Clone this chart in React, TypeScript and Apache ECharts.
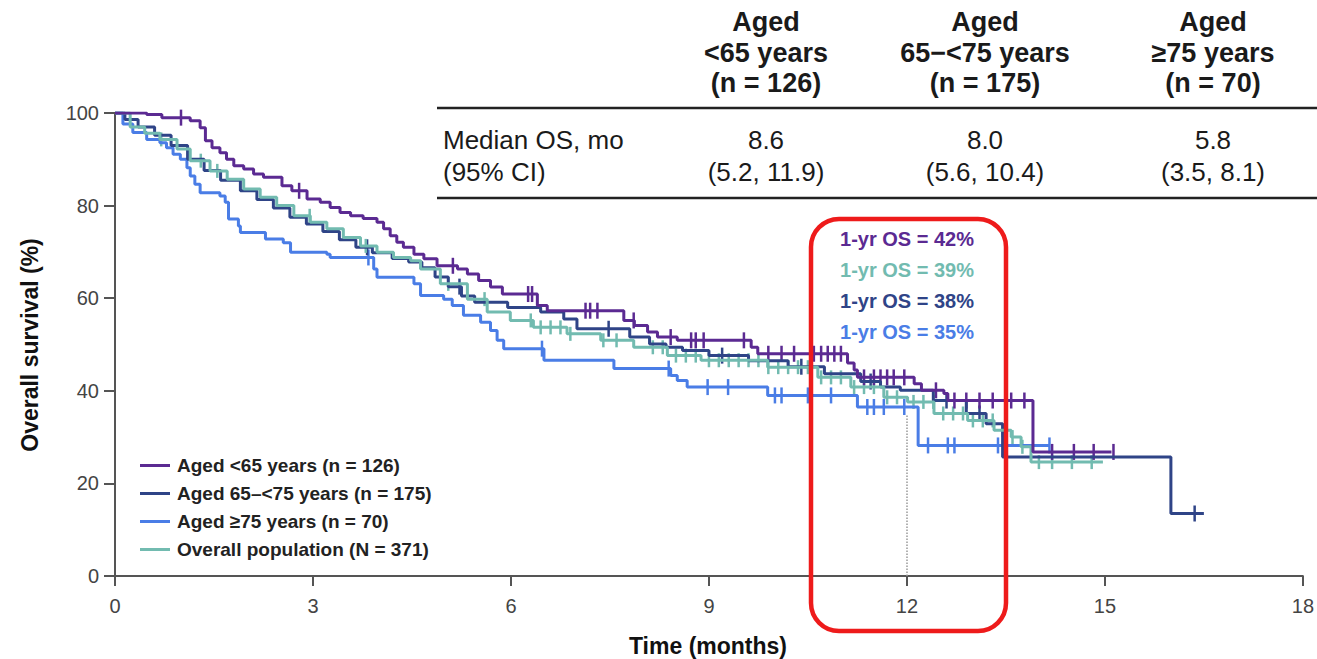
import React, { useEffect, useRef } from "react";
import * as echarts from "echarts";

// ---- Data ----
const xTicks = [0, 3, 6, 9, 12, 15, 18];
const yTicks = [0, 20, 40, 60, 80, 100];

const seriesNames = [
  "Aged <65 years (n = 126)",
  "Aged 65–<75 years (n = 175)",
  "Aged ≥75 years (n = 70)",
  "Overall population (N = 371)",
];

// Aged <65 years
const lt65T = [0, 0.48, 0.71, 1.14, 1.29, 1.37, 1.47, 1.59, 1.69, 1.8, 1.95, 2.1, 2.25, 2.53, 2.68, 2.91, 3.11, 3.26, 3.41, 3.57, 3.76, 3.97, 4.07, 4.17, 4.27, 4.37, 4.53, 4.68, 4.88, 5.19, 5.34, 5.51, 5.69, 5.87, 6.4, 6.55, 7.71, 7.87, 8.07, 8.22, 8.52, 9.64, 9.74, 11.1, 11.2, 11.25, 12.11, 12.22, 12.56, 12.62, 13.91, 15.1];
const lt65S = [100, 99.7, 99.0, 98.3, 96.8, 94.0, 92.5, 91.4, 90.0, 88.6, 87.9, 86.8, 86.1, 84.3, 83.2, 81.4, 80.7, 79.6, 78.5, 77.8, 77.2, 76.4, 75.0, 73.5, 72.1, 71.0, 69.5, 68.5, 67.0, 66.3, 65.2, 63.8, 62.4, 60.9, 58.4, 57.3, 55.2, 54.1, 52.7, 51.6, 50.9, 49.4, 48.0, 46.0, 44.5, 42.9, 41.5, 40.1, 39.4, 37.9, 26.8, 26.8];
const lt65Cens = [1.0, 2.79, 5.12, 6.26, 6.32, 7.13, 7.2, 7.31, 7.86, 8.42, 8.73, 8.8, 8.92, 9.53, 9.9, 10.1, 10.29, 10.59, 10.7, 10.8, 10.9, 11.0, 11.35, 11.5, 11.6, 11.7, 11.8, 11.96, 12.44, 12.72, 12.9, 13.1, 13.3, 13.58, 13.78, 14.2, 14.53, 14.83, 15.13];

// Aged 65–<75 years
const midT = [0, 0.15, 0.35, 0.6, 0.85, 1.1, 1.35, 1.6, 1.9, 2.15, 2.4, 2.65, 2.9, 3.15, 3.4, 3.65, 3.9, 4.2, 4.45, 4.65, 4.85, 5.05, 5.25, 5.45, 5.95, 6.45, 6.8, 7.0, 7.8, 8.1, 8.35, 8.6, 9.0, 9.6, 10.2, 10.75, 11.3, 11.6, 11.9, 12.4, 12.9, 13.2, 13.45, 16.0, 16.5];
const midS = [100, 98.6, 97.0, 95.2, 93.0, 90.0, 87.6, 85.5, 83.2, 81.3, 79.5, 77.5, 76.0, 74.4, 72.6, 71.0, 69.8, 68.6, 67.8, 66.6, 64.6, 62.5, 60.5, 59.1, 58.0, 57.0, 55.5, 53.4, 51.6, 50.1, 49.4, 48.7, 47.6, 46.5, 45.2, 43.7, 42.0, 40.8, 40.1, 37.9, 35.1, 32.9, 25.7, 13.5, 13.5];
const midCens = [3.82, 5.22, 7.48, 9.2, 10.4, 11.45, 12.6, 13.1, 16.36];

// Aged ≥75 years
const ge75T = [0, 0.12, 0.27, 0.48, 0.68, 0.78, 0.88, 0.99, 1.09, 1.14, 1.21, 1.29, 1.59, 1.67, 1.72, 1.87, 1.9, 2.28, 2.55, 2.66, 3.21, 3.26, 3.92, 3.97, 4.53, 4.63, 4.98, 5.11, 5.28, 5.54, 5.69, 5.79, 5.89, 6.5, 7.56, 8.42, 8.52, 8.67, 9.89, 11.25, 12.17, 14.16];
const ge75S = [100, 97.6, 95.8, 94.3, 93.6, 92.5, 91.1, 90.0, 88.2, 86.4, 84.6, 82.8, 82.1, 80.7, 77.1, 75.6, 74.2, 72.8, 72.0, 69.9, 69.5, 68.8, 66.3, 64.5, 63.1, 60.6, 59.8, 58.4, 56.3, 54.8, 53.0, 50.9, 49.1, 46.6, 44.8, 43.3, 42.2, 40.8, 39.0, 36.5, 28.2, 28.2];
const ge75Cens = [3.84, 6.47, 8.39, 8.98, 9.29, 10.0, 10.1, 10.5, 10.85, 11.4, 11.5, 11.65, 11.96, 12.32, 12.62, 12.72, 13.38, 14.16];

// Overall population
const allT = [0, 0.23, 0.45, 0.68, 0.94, 1.14, 1.44, 1.7, 1.95, 2.2, 2.45, 2.71, 2.96, 3.21, 3.46, 3.72, 3.97, 4.22, 4.48, 4.63, 4.93, 5.34, 5.64, 5.99, 6.34, 6.85, 7.36, 7.86, 8.37, 8.88, 9.89, 10.65, 11.15, 11.65, 12.01, 12.41, 12.92, 13.32, 13.58, 13.73, 13.88, 14.97];
const allS = [100, 97.0, 95.6, 94.3, 92.2, 89.7, 87.5, 85.7, 83.6, 81.8, 80.0, 77.8, 76.4, 75.0, 73.1, 71.3, 69.9, 68.8, 68.1, 66.3, 63.1, 59.8, 57.0, 55.2, 53.7, 52.3, 50.9, 49.4, 47.6, 46.6, 45.1, 42.9, 40.8, 38.6, 37.6, 35.1, 33.6, 31.5, 30.0, 27.9, 24.6, 24.6];
const allCens = [0.7, 1.3, 1.55, 2.95, 3.8, 5.05, 5.6, 6.3, 6.45, 6.6, 6.75, 6.9, 7.4, 7.6, 8.15, 8.3, 8.5, 8.65, 8.8, 9.0, 9.15, 9.3, 9.45, 9.6, 9.75, 9.9, 10.05, 10.2, 10.35, 10.5, 10.7, 10.85, 11.0, 11.2, 11.35, 11.5, 11.7, 11.85, 12.1, 12.25, 12.4, 12.55, 12.7, 12.85, 13.0, 13.15, 13.3, 13.45, 13.6, 13.75, 14.0, 14.2, 14.5, 14.8];

const oneYearLabels = ["1-yr OS = 42%", "1-yr OS = 39%", "1-yr OS = 38%", "1-yr OS = 35%"];

const tableCols = [
  { head: "Aged\n<65 years\n(n = 126)", median: "8.6", ci: "(5.2, 11.9)" },
  { head: "Aged\n65−<75 years\n(n = 175)", median: "8.0", ci: "(5.6, 10.4)" },
  { head: "Aged\n≥75 years\n(n = 70)", median: "5.8", ci: "(3.5, 8.1)" },
];

// ---- Styles ----
const C_LT65 = "#5b2a92";
const C_MID = "#2f4487";
const C_GE75 = "#4a7de6";
const C_ALL = "#72bbb0";
const FONT = 'Arial, "Liberation Sans", Helvetica, sans-serif';

function steps(T: number[], S: number[]) {
  return T.map((t, i) => [t, S[i]]);
}
function survAt(T: number[], S: number[], t: number) {
  let v = S[0];
  for (let i = 0; i < T.length; i++) if (T[i] <= t) v = S[i];
  return v;
}
function cens(T: number[], S: number[], times: number[]) {
  return times.map((t) => [t, survAt(T, S, t)]);
}

export default function App() {
  const ref = useRef<HTMLDivElement>(null);
  useEffect(() => {
    if (!ref.current) return;
    const chart = echarts.init(ref.current, null, { renderer: "svg" });

    const lineSeries = (name: string, color: string, T: number[], S: number[], extra: any = {}) => ({
      name,
      type: "line",
      step: "end",
      showSymbol: false,
      symbol: "none",
      data: steps(T, S),
      lineStyle: { color, width: 3 },
      itemStyle: { color },
      ...extra,
    });
    const censSeries = (name: string, color: string, T: number[], S: number[], times: number[], h: number) => ({
      name,
      type: "scatter",
      symbol: "rect",
      symbolSize: [2.5, h],
      data: cens(T, S, times),
      itemStyle: { color, opacity: 1 },
    });

    const annColors = [C_LT65, C_ALL, C_MID, C_GE75];

    const graphics: any[] = [
      { type: "line", shape: { x1: 437, y1: 108, x2: 1317, y2: 108 }, style: { stroke: "#222", lineWidth: 2.5 } },
      { type: "line", shape: { x1: 437, y1: 198, x2: 1317, y2: 198 }, style: { stroke: "#222", lineWidth: 2.5 } },
      {
        type: "text",
        x: 443,
        y: 124,
        style: { text: "Median OS, mo\n(95% CI)", font: `26px ${FONT}`, lineHeight: 32, fill: "#1a1a1a", align: "left", verticalAlign: "top" },
      },
      {
        type: "text",
        x: 30,
        y: 345,
        rotation: Math.PI / 2,
        style: { text: "Overall survival (%)", font: `bold 23px ${FONT}`, fill: "#111", align: "center", verticalAlign: "middle" },
      },
      {
        type: "text",
        x: 708,
        y: 646,
        style: { text: "Time (months)", font: `bold 23px ${FONT}`, fill: "#111", align: "center", verticalAlign: "middle" },
      },
      {
        type: "rect",
        shape: { x: 811, y: 219, width: 195, height: 412, r: 28 },
        style: { fill: "none", stroke: "#ee1b1b", lineWidth: 4.5 },
        z: 100,
      },
    ];
    const colX = [766, 985, 1213];
    tableCols.forEach((c, i) => {
      graphics.push({
        type: "text",
        x: colX[i],
        y: 7,
        style: { text: c.head, font: `bold 27px ${FONT}`, lineHeight: 30.5, fill: "#1a1a1a", align: "center", verticalAlign: "top" },
      });
      graphics.push({
        type: "text",
        x: colX[i],
        y: 124,
        style: { text: c.median + "\n" + c.ci, font: `26px ${FONT}`, lineHeight: 32, fill: "#1a1a1a", align: "center", verticalAlign: "top" },
      });
    });
    oneYearLabels.forEach((t, i) => {
      graphics.push({
        type: "text",
        x: 907,
        y: 239 + i * 31,
        style: { text: t, font: `bold 20px ${FONT}`, fill: annColors[i], align: "center", verticalAlign: "middle" },
        z: 101,
      });
    });

    chart.setOption({
      animation: false,
      backgroundColor: "#ffffff",
      grid: { left: 115, right: 14, top: 113, bottom: 83, containLabel: false },
      legend: {
        data: seriesNames,
        orient: "vertical",
        left: 135,
        top: 451,
        icon: "rect",
        itemWidth: 30,
        itemHeight: 3,
        itemGap: 9,
        textStyle: { fontFamily: FONT, fontWeight: "bold", fontSize: 19, color: "#222", lineHeight: 19, padding: [0, 0, 0, 2] },
      },
      xAxis: {
        type: "value",
        min: xTicks[0],
        max: xTicks[xTicks.length - 1],
        interval: 3,
        axisLine: { show: true, lineStyle: { color: "#555", width: 2 } },
        axisTick: { show: true, length: 10, lineStyle: { color: "#555", width: 2 } },
        axisLabel: { color: "#444", fontSize: 20, fontFamily: FONT, margin: 20 },
        splitLine: { show: false },
      },
      yAxis: {
        type: "value",
        min: yTicks[0],
        max: yTicks[yTicks.length - 1],
        interval: 20,
        axisLine: { show: true, lineStyle: { color: "#555", width: 2 } },
        axisTick: { show: true, length: 11, lineStyle: { color: "#555", width: 2 } },
        axisLabel: { color: "#444", fontSize: 20, fontFamily: FONT, margin: 16 },
        splitLine: { show: false },
      },
      series: [
        lineSeries(seriesNames[2], C_GE75, ge75T, ge75S),
        censSeries("c75", C_GE75, ge75T, ge75S, ge75Cens, 16),
        lineSeries(seriesNames[1], C_MID, midT, midS),
        censSeries("cmid", C_MID, midT, midS, midCens, 16),
        lineSeries(seriesNames[3], C_ALL, allT, allS, {
          markLine: {
            silent: true,
            symbol: "none",
            label: { show: false },
            lineStyle: { type: "dotted", color: "#999", width: 1.5 },
            data: [[{ coord: [12, 0] }, { coord: [12, 35] }]],
          },
        }),
        censSeries("call", C_ALL, allT, allS, allCens, 14),
        lineSeries(seriesNames[0], C_LT65, lt65T, lt65S),
        censSeries("clt65", C_LT65, lt65T, lt65S, lt65Cens, 16),
      ],
      graphic: graphics,
    });
    return () => chart.dispose();
  }, []);
  return <div ref={ref} style={{ position: "fixed", left: 0, top: 0, width: 1317, height: 659, background: "#fff" }} />;
}
